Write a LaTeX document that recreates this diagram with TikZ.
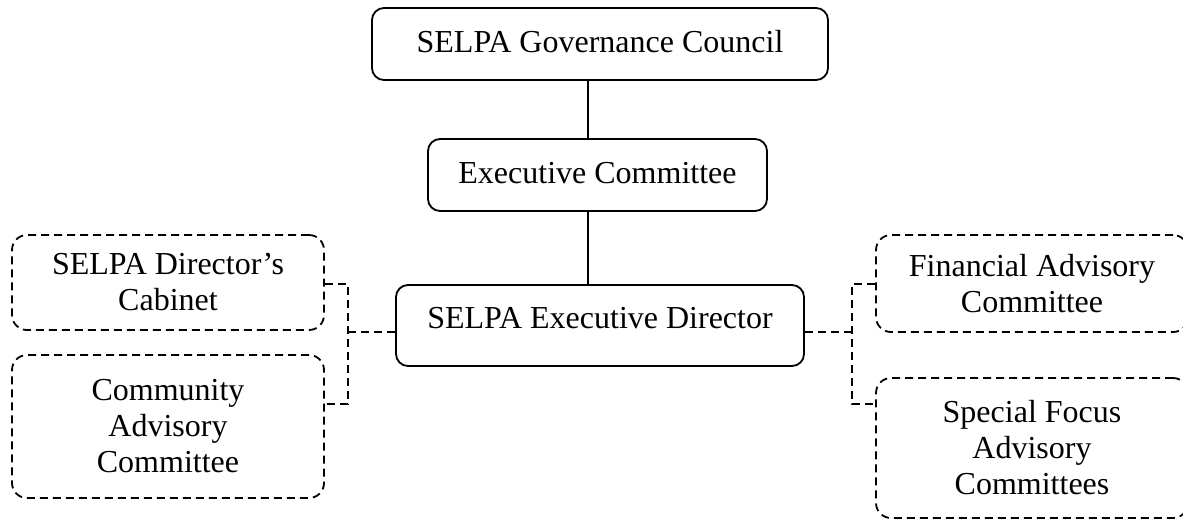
\documentclass[tikz,border=0pt]{standalone}
\usepackage{fontspec}
\setmainfont{Liberation Serif}
\usetikzlibrary{positioning}

\begin{document}
\begin{tikzpicture}[x=1pt, y=-1pt,
    box/.style={draw, line width=1.8pt, rounded corners=12pt, inner sep=0pt,
      align=center, font=\fontsize{32}{36}\selectfont},
    sidebox/.style={box, dashed, dash pattern=on 8pt off 5pt,
      rounded corners=15pt, minimum width=312pt},
    link/.style={line width=1.8pt, dash pattern=on 8pt off 5pt}]
    \useasboundingbox (0,0) rectangle (1183,520);

    \path (600, 44) node [box, minimum width=456pt, minimum height=72pt,
	text height=21pt, text depth=5pt] (gc) {SELPA Governance Council};
    \path (597.5, 175) node [box, minimum width=339pt, minimum height=72pt,
	text height=21pt, text depth=5pt] (ec) {Executive Committee};
    \path (600, 325.5) node [box, minimum width=408pt, minimum height=81pt,
	text height=21pt, text depth=16pt] (ed) {SELPA Executive Director};

    \path (168, 282.5) node [sidebox, minimum height=95pt] (dc)
	{SELPA Director’s\\Cabinet};
    \path (168, 426.5) node [sidebox, minimum height=143pt] (ca)
	{Community\\Advisory\\Committee};
    \path (1032, 283.5) node [sidebox, minimum height=97pt] (fa)
	{Financial Advisory\\Committee};
    \path (1032, 448) node [sidebox, minimum height=140pt] (sf)
	{Special Focus\\Advisory\\Committees};

    % solid chain of command
    \coordinate (spine) at (588, 0);
    \draw [line width=1.8pt] (gc.south -| spine) -- (ec.north -| spine);
    \draw [line width=1.8pt] (ec.south -| spine) -- (ed.north -| spine);

    % dashed brackets to the advisory bodies
    \coordinate (lj) at (348, 332);
    \coordinate (lt) at (348, 284);
    \coordinate (lb) at (348, 404);
    \coordinate (rj) at (852, 332);
    \coordinate (rt) at (852, 284);
    \coordinate (rb) at (852, 404);
    \draw [link] (ed.west |- lj) -- (lj);
    \draw [link] (dc.east |- lt) -- (lt) -- (lb) -- (ca.east |- lb);
    \draw [link] (ed.east |- rj) -- (rj);
    \draw [link] (fa.west |- rt) -- (rt) -- (rb) -- (sf.west |- rb);
\end{tikzpicture}
\end{document}
